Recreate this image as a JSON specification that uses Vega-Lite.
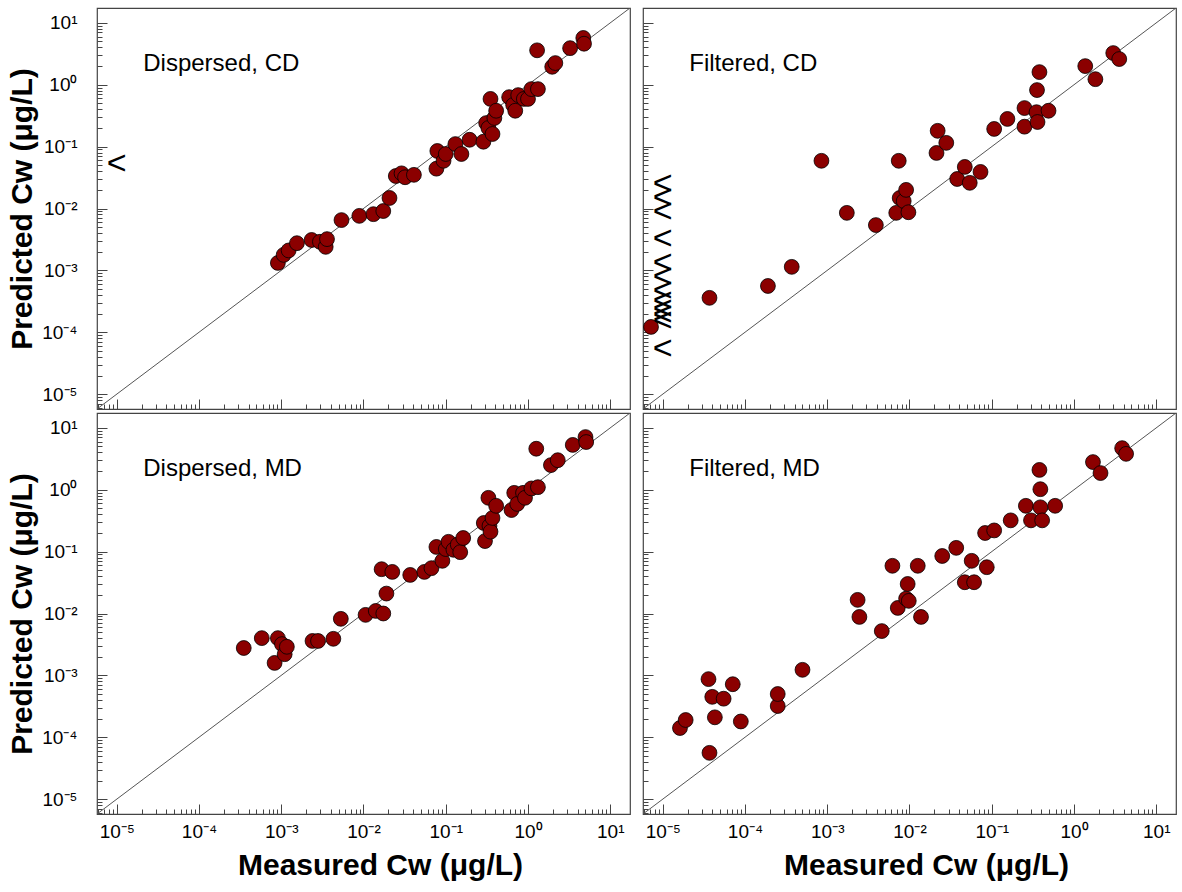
{
  "$schema": "https://vega.github.io/schema/vega-lite/v6.json",
  "background": "white",
  "padding": {"left": 7, "top": 7, "right": 2, "bottom": 5},
  "config": {
    "view": {"stroke": "#444", "strokeWidth": 1.2},
    "font": "Liberation Sans",
    "axis": {"domain": false, "grid": false, "minExtent": 0, "tickColor": "#444", "tickWidth": 1, "labelFont": "Liberation Sans", "labelColor": "#000", "labelOverlap": false, "labelFlush": false, "labelBound": false, "titleFont": "Liberation Sans", "titleFontSize": 30, "titleFontWeight": "bold", "titleColor": "#000"}
  },
  "datasets": {
    "diag": [{"x": 0.000005754, "y": 0.000005754}, {"x": 17.38, "y": 17.38}],
    "lab": [
      {"p": "DCD", "x": 0.000021, "y": 2.16, "label": "Dispersed, CD"},
      {"p": "FCD", "x": 0.000021, "y": 2.16, "label": "Filtered, CD"},
      {"p": "DMD", "x": 0.000021, "y": 2.16, "label": "Dispersed, MD"},
      {"p": "FMD", "x": 0.000021, "y": 2.16, "label": "Filtered, MD"}
    ],
    "lt": [
      {"p": "DCD", "x": 0.00001, "y": 0.0525},
      {"p": "FCD", "x": 0.00001, "y": 0.0249},
      {"p": "FCD", "x": 0.00001, "y": 0.0148},
      {"p": "FCD", "x": 0.00001, "y": 0.00879},
      {"p": "FCD", "x": 0.00001, "y": 0.00322},
      {"p": "FCD", "x": 0.00001, "y": 0.00132},
      {"p": "FCD", "x": 0.00001, "y": 0.000783},
      {"p": "FCD", "x": 0.00001, "y": 0.000466},
      {"p": "FCD", "x": 0.00001, "y": 0.000321},
      {"p": "FCD", "x": 0.00001, "y": 0.000238},
      {"p": "FCD", "x": 0.00001, "y": 0.000191},
      {"p": "FCD", "x": 0.00001, "y": 0.000152},
      {"p": "FCD", "x": 0.00001, "y": 0.0000538}
    ],
    "pts": [
      {"p": "DCD", "x": 9.1e-4, "y": 1.32e-3}, {"p": "DCD", "x": 1.07e-3, "y": 1.78e-3}, {"p": "DCD", "x": 1.23e-3, "y": 2.1e-3}, {"p": "DCD", "x": 1.55e-3, "y": 2.75e-3}, {"p": "DCD", "x": 2.34e-3, "y": 3.1e-3}, {"p": "DCD", "x": 2.95e-3, "y": 2.9e-3}, {"p": "DCD", "x": 3.47e-3, "y": 2.4e-3}, {"p": "DCD", "x": 3.6e-3, "y": 3.2e-3}, {"p": "DCD", "x": 5.4e-3, "y": 6.5e-3}, {"p": "DCD", "x": 8.9e-3, "y": 7.6e-3}, {"p": "DCD", "x": 1.32e-2, "y": 8.1e-3}, {"p": "DCD", "x": 1.74e-2, "y": 9.1e-3}, {"p": "DCD", "x": 2.07e-2, "y": 1.48e-2}, {"p": "DCD", "x": 2.47e-2, "y": 3.35e-2}, {"p": "DCD", "x": 2.9e-2, "y": 3.7e-2}, {"p": "DCD", "x": 3.2e-2, "y": 3.2e-2}, {"p": "DCD", "x": 4.1e-2, "y": 3.5e-2}, {"p": "DCD", "x": 7.7e-2, "y": 4.4e-2}, {"p": "DCD", "x": 7.9e-2, "y": 8.5e-2}, {"p": "DCD", "x": 9.4e-2, "y": 5.9e-2}, {"p": "DCD", "x": 0.1, "y": 7.6e-2}, {"p": "DCD", "x": 0.131, "y": 0.11}, {"p": "DCD", "x": 0.155, "y": 0.076}, {"p": "DCD", "x": 0.195, "y": 0.129}, {"p": "DCD", "x": 0.287, "y": 0.12}, {"p": "DCD", "x": 0.31, "y": 0.24}, {"p": "DCD", "x": 0.33, "y": 0.2}, {"p": "DCD", "x": 0.35, "y": 0.59}, {"p": "DCD", "x": 0.37, "y": 0.16}, {"p": "DCD", "x": 0.39, "y": 0.29}, {"p": "DCD", "x": 0.41, "y": 0.38}, {"p": "DCD", "x": 0.59, "y": 0.63}, {"p": "DCD", "x": 0.66, "y": 0.47}, {"p": "DCD", "x": 0.7, "y": 0.38}, {"p": "DCD", "x": 0.76, "y": 0.68}, {"p": "DCD", "x": 0.89, "y": 0.59}, {"p": "DCD", "x": 1.0, "y": 0.59}, {"p": "DCD", "x": 1.1, "y": 0.85}, {"p": "DCD", "x": 1.32, "y": 0.85}, {"p": "DCD", "x": 1.29, "y": 3.6}, {"p": "DCD", "x": 1.97, "y": 1.95}, {"p": "DCD", "x": 2.15, "y": 2.24}, {"p": "DCD", "x": 3.25, "y": 3.9}, {"p": "DCD", "x": 4.7, "y": 5.7}, {"p": "DCD", "x": 4.8, "y": 4.6},
      {"p": "FCD", "x": 7.2e-6, "y": 1.22e-4}, {"p": "FCD", "x": 3.7e-5, "y": 3.6e-4}, {"p": "FCD", "x": 1.9e-4, "y": 5.6e-4}, {"p": "FCD", "x": 3.7e-4, "y": 1.14e-3}, {"p": "FCD", "x": 8.5e-4, "y": 5.9e-2}, {"p": "FCD", "x": 1.73e-3, "y": 8.5e-3}, {"p": "FCD", "x": 3.9e-3, "y": 5.4e-3}, {"p": "FCD", "x": 6.9e-3, "y": 8.5e-3}, {"p": "FCD", "x": 7.4e-3, "y": 5.9e-2}, {"p": "FCD", "x": 7.6e-3, "y": 1.48e-2}, {"p": "FCD", "x": 8.5e-3, "y": 1.32e-2}, {"p": "FCD", "x": 9.1e-3, "y": 2.0e-2}, {"p": "FCD", "x": 9.7e-3, "y": 8.7e-3}, {"p": "FCD", "x": 2.13e-2, "y": 7.9e-2}, {"p": "FCD", "x": 2.2e-2, "y": 0.18}, {"p": "FCD", "x": 2.8e-2, "y": 0.115}, {"p": "FCD", "x": 3.8e-2, "y": 3.0e-2}, {"p": "FCD", "x": 4.7e-2, "y": 4.7e-2}, {"p": "FCD", "x": 5.4e-2, "y": 2.6e-2}, {"p": "FCD", "x": 7.3e-2, "y": 3.9e-2}, {"p": "FCD", "x": 0.107, "y": 0.193}, {"p": "FCD", "x": 0.155, "y": 0.28}, {"p": "FCD", "x": 0.25, "y": 0.42}, {"p": "FCD", "x": 0.25, "y": 0.21}, {"p": "FCD", "x": 0.35, "y": 0.36}, {"p": "FCD", "x": 0.355, "y": 0.82}, {"p": "FCD", "x": 0.36, "y": 0.25}, {"p": "FCD", "x": 0.38, "y": 1.6}, {"p": "FCD", "x": 0.49, "y": 0.38}, {"p": "FCD", "x": 1.37, "y": 2.0}, {"p": "FCD", "x": 1.82, "y": 1.23}, {"p": "FCD", "x": 3.0, "y": 3.25}, {"p": "FCD", "x": 3.55, "y": 2.6},
      {"p": "DMD", "x": 3.5e-4, "y": 2.77e-3}, {"p": "DMD", "x": 5.8e-4, "y": 4.0e-3}, {"p": "DMD", "x": 8.3e-4, "y": 1.59e-3}, {"p": "DMD", "x": 9.1e-4, "y": 4.0e-3}, {"p": "DMD", "x": 1.02e-3, "y": 3.2e-3}, {"p": "DMD", "x": 1.1e-3, "y": 2.2e-3}, {"p": "DMD", "x": 1.17e-3, "y": 2.9e-3}, {"p": "DMD", "x": 2.4e-3, "y": 3.6e-3}, {"p": "DMD", "x": 2.8e-3, "y": 3.6e-3}, {"p": "DMD", "x": 4.3e-3, "y": 3.9e-3}, {"p": "DMD", "x": 5.3e-3, "y": 8.2e-3}, {"p": "DMD", "x": 1.06e-2, "y": 9.5e-3}, {"p": "DMD", "x": 1.41e-2, "y": 1.1e-2}, {"p": "DMD", "x": 1.66e-2, "y": 5.2e-2}, {"p": "DMD", "x": 1.74e-2, "y": 1.0e-2}, {"p": "DMD", "x": 1.9e-2, "y": 2.1e-2}, {"p": "DMD", "x": 2.24e-2, "y": 4.7e-2}, {"p": "DMD", "x": 3.7e-2, "y": 4.2e-2}, {"p": "DMD", "x": 5.5e-2, "y": 4.7e-2}, {"p": "DMD", "x": 6.7e-2, "y": 5.4e-2}, {"p": "DMD", "x": 7.7e-2, "y": 0.119}, {"p": "DMD", "x": 9.1e-2, "y": 7.1e-2}, {"p": "DMD", "x": 0.1, "y": 0.11}, {"p": "DMD", "x": 0.108, "y": 0.144}, {"p": "DMD", "x": 0.124, "y": 0.107}, {"p": "DMD", "x": 0.14, "y": 0.13}, {"p": "DMD", "x": 0.15, "y": 0.098}, {"p": "DMD", "x": 0.163, "y": 0.166}, {"p": "DMD", "x": 0.29, "y": 0.29}, {"p": "DMD", "x": 0.3, "y": 0.148}, {"p": "DMD", "x": 0.33, "y": 0.74}, {"p": "DMD", "x": 0.34, "y": 0.26}, {"p": "DMD", "x": 0.35, "y": 0.21}, {"p": "DMD", "x": 0.37, "y": 0.35}, {"p": "DMD", "x": 0.41, "y": 0.55}, {"p": "DMD", "x": 0.63, "y": 0.47}, {"p": "DMD", "x": 0.68, "y": 0.89}, {"p": "DMD", "x": 0.74, "y": 0.59}, {"p": "DMD", "x": 0.87, "y": 0.89}, {"p": "DMD", "x": 0.92, "y": 0.74}, {"p": "DMD", "x": 1.1, "y": 1.05}, {"p": "DMD", "x": 1.26, "y": 4.6}, {"p": "DMD", "x": 1.32, "y": 1.1}, {"p": "DMD", "x": 1.9, "y": 2.5}, {"p": "DMD", "x": 2.3, "y": 3.0}, {"p": "DMD", "x": 3.5, "y": 5.3}, {"p": "DMD", "x": 5.0, "y": 7.1}, {"p": "DMD", "x": 5.1, "y": 5.9},
      {"p": "FMD", "x": 1.62e-5, "y": 1.41e-4}, {"p": "FMD", "x": 1.9e-5, "y": 1.9e-4}, {"p": "FMD", "x": 3.6e-5, "y": 8.7e-4}, {"p": "FMD", "x": 4.0e-5, "y": 4.5e-4}, {"p": "FMD", "x": 3.7e-5, "y": 5.6e-5}, {"p": "FMD", "x": 4.3e-5, "y": 2.1e-4}, {"p": "FMD", "x": 5.5e-5, "y": 4.2e-4}, {"p": "FMD", "x": 7.1e-5, "y": 7.2e-4}, {"p": "FMD", "x": 8.9e-5, "y": 1.8e-4}, {"p": "FMD", "x": 2.5e-4, "y": 3.2e-4}, {"p": "FMD", "x": 2.5e-4, "y": 5.0e-4}, {"p": "FMD", "x": 5.0e-4, "y": 1.23e-3}, {"p": "FMD", "x": 2.34e-3, "y": 1.66e-2}, {"p": "FMD", "x": 2.46e-3, "y": 8.8e-3}, {"p": "FMD", "x": 4.6e-3, "y": 5.2e-3}, {"p": "FMD", "x": 6.2e-3, "y": 5.9e-2}, {"p": "FMD", "x": 7.2e-3, "y": 1.23e-2}, {"p": "FMD", "x": 9.1e-3, "y": 1.74e-2}, {"p": "FMD", "x": 9.5e-3, "y": 3.0e-2}, {"p": "FMD", "x": 9.8e-3, "y": 1.6e-2}, {"p": "FMD", "x": 1.26e-2, "y": 5.9e-2}, {"p": "FMD", "x": 1.38e-2, "y": 8.8e-3}, {"p": "FMD", "x": 2.5e-2, "y": 8.5e-2}, {"p": "FMD", "x": 3.7e-2, "y": 0.115}, {"p": "FMD", "x": 4.7e-2, "y": 3.2e-2}, {"p": "FMD", "x": 5.7e-2, "y": 7.1e-2}, {"p": "FMD", "x": 6.1e-2, "y": 3.2e-2}, {"p": "FMD", "x": 8.3e-2, "y": 0.2}, {"p": "FMD", "x": 8.7e-2, "y": 5.6e-2}, {"p": "FMD", "x": 0.107, "y": 0.22}, {"p": "FMD", "x": 0.17, "y": 0.32}, {"p": "FMD", "x": 0.26, "y": 0.55}, {"p": "FMD", "x": 0.3, "y": 0.32}, {"p": "FMD", "x": 0.38, "y": 2.09}, {"p": "FMD", "x": 0.39, "y": 1.02}, {"p": "FMD", "x": 0.39, "y": 0.52}, {"p": "FMD", "x": 0.41, "y": 0.32}, {"p": "FMD", "x": 0.59, "y": 0.55}, {"p": "FMD", "x": 1.7, "y": 2.8}, {"p": "FMD", "x": 2.1, "y": 1.86}, {"p": "FMD", "x": 3.85, "y": 4.7}, {"p": "FMD", "x": 4.3, "y": 3.8}
    ]
  },
  "columns": 2,
  "spacing": {"row": 1, "column": 10},
  "concat": [
    {
      "width": 533, "height": 401,
      "encoding": {
        "x": {"field": "x", "type": "quantitative", "scale": {"type": "log", "domain": [0.000005754, 17.38], "nice": false}, "axis": {"values": [0.000006,0.000007,0.000008,0.000009,0.00001,0.00002,0.00003,0.00004,0.00005,0.00006,0.00007,0.00008,0.00009,0.0001,0.0002,0.0003,0.0004,0.0005,0.0006,0.0007,0.0008,0.0009,0.001,0.002,0.003,0.004,0.005,0.006,0.007,0.008,0.009,0.01,0.02,0.03,0.04,0.05,0.06,0.07,0.08,0.09,0.1,0.2,0.3,0.4,0.5,0.6,0.7,0.8,0.9,1,2,3,4,5,6,7,8,9,10], "tickSize": {"condition": {"test": "indexof([0.00001,0.0001,0.001,0.01,0.1,1,10], datum.value) >= 0", "value": -10}, "value": -5}, "labels": false, "title": null}},
        "y": {"field": "y", "type": "quantitative", "scale": {"type": "log", "domain": [0.000005754, 17.38], "nice": false}, "axis": {"values": [0.000006,0.000007,0.000008,0.000009,0.00001,0.00002,0.00003,0.00004,0.00005,0.00006,0.00007,0.00008,0.00009,0.0001,0.0002,0.0003,0.0004,0.0005,0.0006,0.0007,0.0008,0.0009,0.001,0.002,0.003,0.004,0.005,0.006,0.007,0.008,0.009,0.01,0.02,0.03,0.04,0.05,0.06,0.07,0.08,0.09,0.1,0.2,0.3,0.4,0.5,0.6,0.7,0.8,0.9,1,2,3,4,5,6,7,8,9,10], "tickSize": {"condition": {"test": "indexof([0.00001,0.0001,0.001,0.01,0.1,1,10], datum.value) >= 0", "value": -10}, "value": -5}, "labelFontSize": {"condition": {"test": "indexof([0.00001,0.0001,0.001,0.01,0.1,1,10], datum.value) >= 0", "value": 19}, "value": 0.01}, "labelExpr": "datum.value == 0.00001 ? '10⁻⁵' : datum.value == 0.0001 ? '10⁻⁴' : datum.value == 0.001 ? '10⁻³' : datum.value == 0.01 ? '10⁻²' : datum.value == 0.1 ? '10⁻¹' : datum.value == 1 ? '10⁰' : datum.value == 10 ? '10¹' : ''", "labelPadding": 30, "title": "Predicted Cᴡ (μg/L)", "titlePadding": 4}}
      },
      "layer": [
        {"data": {"name": "diag"}, "mark": {"type": "line", "color": "#555", "strokeWidth": 1, "clip": true}, "encoding": {}},
        {"data": {"name": "pts"}, "transform": [{"filter": "datum.p == 'DCD'"}], "mark": {"type": "circle", "size": 220, "color": "#8B0000", "opacity": 1, "stroke": "#000", "strokeWidth": 0.8}},
        {"data": {"name": "lt"}, "transform": [{"filter": "datum.p == 'DCD'"}], "mark": {"type": "text", "text": "<", "fontSize": 34, "font": "Liberation Sans", "color": "#000", "align": "center", "baseline": "middle"}},
        {"data": {"name": "lab"}, "transform": [{"filter": "datum.p == 'DCD'"}], "mark": {"type": "text", "fontSize": 24, "font": "Liberation Sans", "color": "#000", "align": "left", "baseline": "middle"}, "encoding": {"text": {"field": "label"}}}
      ]
    },
    {
      "width": 533, "height": 401,
      "encoding": {
        "x": {"field": "x", "type": "quantitative", "scale": {"type": "log", "domain": [0.000005754, 17.38], "nice": false}, "axis": {"values": [0.000006,0.000007,0.000008,0.000009,0.00001,0.00002,0.00003,0.00004,0.00005,0.00006,0.00007,0.00008,0.00009,0.0001,0.0002,0.0003,0.0004,0.0005,0.0006,0.0007,0.0008,0.0009,0.001,0.002,0.003,0.004,0.005,0.006,0.007,0.008,0.009,0.01,0.02,0.03,0.04,0.05,0.06,0.07,0.08,0.09,0.1,0.2,0.3,0.4,0.5,0.6,0.7,0.8,0.9,1,2,3,4,5,6,7,8,9,10], "tickSize": {"condition": {"test": "indexof([0.00001,0.0001,0.001,0.01,0.1,1,10], datum.value) >= 0", "value": -10}, "value": -5}, "labels": false, "title": null}},
        "y": {"field": "y", "type": "quantitative", "scale": {"type": "log", "domain": [0.000005754, 17.38], "nice": false}, "axis": {"values": [0.000006,0.000007,0.000008,0.000009,0.00001,0.00002,0.00003,0.00004,0.00005,0.00006,0.00007,0.00008,0.00009,0.0001,0.0002,0.0003,0.0004,0.0005,0.0006,0.0007,0.0008,0.0009,0.001,0.002,0.003,0.004,0.005,0.006,0.007,0.008,0.009,0.01,0.02,0.03,0.04,0.05,0.06,0.07,0.08,0.09,0.1,0.2,0.3,0.4,0.5,0.6,0.7,0.8,0.9,1,2,3,4,5,6,7,8,9,10], "tickSize": {"condition": {"test": "indexof([0.00001,0.0001,0.001,0.01,0.1,1,10], datum.value) >= 0", "value": -10}, "value": -5}, "labels": false, "title": null}}
      },
      "layer": [
        {"data": {"name": "diag"}, "mark": {"type": "line", "color": "#555", "strokeWidth": 1, "clip": true}, "encoding": {}},
        {"data": {"name": "pts"}, "transform": [{"filter": "datum.p == 'FCD'"}], "mark": {"type": "circle", "size": 220, "color": "#8B0000", "opacity": 1, "stroke": "#000", "strokeWidth": 0.8}},
        {"data": {"name": "lt"}, "transform": [{"filter": "datum.p == 'FCD'"}], "mark": {"type": "text", "text": "<", "fontSize": 34, "font": "Liberation Sans", "color": "#000", "align": "center", "baseline": "middle"}},
        {"data": {"name": "lab"}, "transform": [{"filter": "datum.p == 'FCD'"}], "mark": {"type": "text", "fontSize": 24, "font": "Liberation Sans", "color": "#000", "align": "left", "baseline": "middle"}, "encoding": {"text": {"field": "label"}}}
      ]
    },
    {
      "width": 533, "height": 401,
      "encoding": {
        "x": {"field": "x", "type": "quantitative", "scale": {"type": "log", "domain": [0.000005754, 17.38], "nice": false}, "axis": {"values": [0.000006,0.000007,0.000008,0.000009,0.00001,0.00002,0.00003,0.00004,0.00005,0.00006,0.00007,0.00008,0.00009,0.0001,0.0002,0.0003,0.0004,0.0005,0.0006,0.0007,0.0008,0.0009,0.001,0.002,0.003,0.004,0.005,0.006,0.007,0.008,0.009,0.01,0.02,0.03,0.04,0.05,0.06,0.07,0.08,0.09,0.1,0.2,0.3,0.4,0.5,0.6,0.7,0.8,0.9,1,2,3,4,5,6,7,8,9,10], "tickSize": {"condition": {"test": "indexof([0.00001,0.0001,0.001,0.01,0.1,1,10], datum.value) >= 0", "value": -10}, "value": -5}, "labelFontSize": {"condition": {"test": "indexof([0.00001,0.0001,0.001,0.01,0.1,1,10], datum.value) >= 0", "value": 19}, "value": 0.01}, "labelExpr": "datum.value == 0.00001 ? '10⁻⁵' : datum.value == 0.0001 ? '10⁻⁴' : datum.value == 0.001 ? '10⁻³' : datum.value == 0.01 ? '10⁻²' : datum.value == 0.1 ? '10⁻¹' : datum.value == 1 ? '10⁰' : datum.value == 10 ? '10¹' : ''", "labelPadding": 18, "title": "Measured Cᴡ (μg/L)", "titlePadding": 9, "titleX": 283}},
        "y": {"field": "y", "type": "quantitative", "scale": {"type": "log", "domain": [0.000005754, 17.38], "nice": false}, "axis": {"values": [0.000006,0.000007,0.000008,0.000009,0.00001,0.00002,0.00003,0.00004,0.00005,0.00006,0.00007,0.00008,0.00009,0.0001,0.0002,0.0003,0.0004,0.0005,0.0006,0.0007,0.0008,0.0009,0.001,0.002,0.003,0.004,0.005,0.006,0.007,0.008,0.009,0.01,0.02,0.03,0.04,0.05,0.06,0.07,0.08,0.09,0.1,0.2,0.3,0.4,0.5,0.6,0.7,0.8,0.9,1,2,3,4,5,6,7,8,9,10], "tickSize": {"condition": {"test": "indexof([0.00001,0.0001,0.001,0.01,0.1,1,10], datum.value) >= 0", "value": -10}, "value": -5}, "labelFontSize": {"condition": {"test": "indexof([0.00001,0.0001,0.001,0.01,0.1,1,10], datum.value) >= 0", "value": 19}, "value": 0.01}, "labelExpr": "datum.value == 0.00001 ? '10⁻⁵' : datum.value == 0.0001 ? '10⁻⁴' : datum.value == 0.001 ? '10⁻³' : datum.value == 0.01 ? '10⁻²' : datum.value == 0.1 ? '10⁻¹' : datum.value == 1 ? '10⁰' : datum.value == 10 ? '10¹' : ''", "labelPadding": 30, "title": "Predicted Cᴡ (μg/L)", "titlePadding": 4}}
      },
      "layer": [
        {"data": {"name": "diag"}, "mark": {"type": "line", "color": "#555", "strokeWidth": 1, "clip": true}, "encoding": {}},
        {"data": {"name": "pts"}, "transform": [{"filter": "datum.p == 'DMD'"}], "mark": {"type": "circle", "size": 220, "color": "#8B0000", "opacity": 1, "stroke": "#000", "strokeWidth": 0.8}},
        {"data": {"name": "lab"}, "transform": [{"filter": "datum.p == 'DMD'"}], "mark": {"type": "text", "fontSize": 24, "font": "Liberation Sans", "color": "#000", "align": "left", "baseline": "middle"}, "encoding": {"text": {"field": "label"}}}
      ]
    },
    {
      "width": 533, "height": 401,
      "encoding": {
        "x": {"field": "x", "type": "quantitative", "scale": {"type": "log", "domain": [0.000005754, 17.38], "nice": false}, "axis": {"values": [0.000006,0.000007,0.000008,0.000009,0.00001,0.00002,0.00003,0.00004,0.00005,0.00006,0.00007,0.00008,0.00009,0.0001,0.0002,0.0003,0.0004,0.0005,0.0006,0.0007,0.0008,0.0009,0.001,0.002,0.003,0.004,0.005,0.006,0.007,0.008,0.009,0.01,0.02,0.03,0.04,0.05,0.06,0.07,0.08,0.09,0.1,0.2,0.3,0.4,0.5,0.6,0.7,0.8,0.9,1,2,3,4,5,6,7,8,9,10], "tickSize": {"condition": {"test": "indexof([0.00001,0.0001,0.001,0.01,0.1,1,10], datum.value) >= 0", "value": -10}, "value": -5}, "labelFontSize": {"condition": {"test": "indexof([0.00001,0.0001,0.001,0.01,0.1,1,10], datum.value) >= 0", "value": 19}, "value": 0.01}, "labelExpr": "datum.value == 0.00001 ? '10⁻⁵' : datum.value == 0.0001 ? '10⁻⁴' : datum.value == 0.001 ? '10⁻³' : datum.value == 0.01 ? '10⁻²' : datum.value == 0.1 ? '10⁻¹' : datum.value == 1 ? '10⁰' : datum.value == 10 ? '10¹' : ''", "labelPadding": 18, "title": "Measured Cᴡ (μg/L)", "titlePadding": 9, "titleX": 283}},
        "y": {"field": "y", "type": "quantitative", "scale": {"type": "log", "domain": [0.000005754, 17.38], "nice": false}, "axis": {"values": [0.000006,0.000007,0.000008,0.000009,0.00001,0.00002,0.00003,0.00004,0.00005,0.00006,0.00007,0.00008,0.00009,0.0001,0.0002,0.0003,0.0004,0.0005,0.0006,0.0007,0.0008,0.0009,0.001,0.002,0.003,0.004,0.005,0.006,0.007,0.008,0.009,0.01,0.02,0.03,0.04,0.05,0.06,0.07,0.08,0.09,0.1,0.2,0.3,0.4,0.5,0.6,0.7,0.8,0.9,1,2,3,4,5,6,7,8,9,10], "tickSize": {"condition": {"test": "indexof([0.00001,0.0001,0.001,0.01,0.1,1,10], datum.value) >= 0", "value": -10}, "value": -5}, "labels": false, "title": null}}
      },
      "layer": [
        {"data": {"name": "diag"}, "mark": {"type": "line", "color": "#555", "strokeWidth": 1, "clip": true}, "encoding": {}},
        {"data": {"name": "pts"}, "transform": [{"filter": "datum.p == 'FMD'"}], "mark": {"type": "circle", "size": 220, "color": "#8B0000", "opacity": 1, "stroke": "#000", "strokeWidth": 0.8}},
        {"data": {"name": "lab"}, "transform": [{"filter": "datum.p == 'FMD'"}], "mark": {"type": "text", "fontSize": 24, "font": "Liberation Sans", "color": "#000", "align": "left", "baseline": "middle"}, "encoding": {"text": {"field": "label"}}}
      ]
    }
  ]
}
